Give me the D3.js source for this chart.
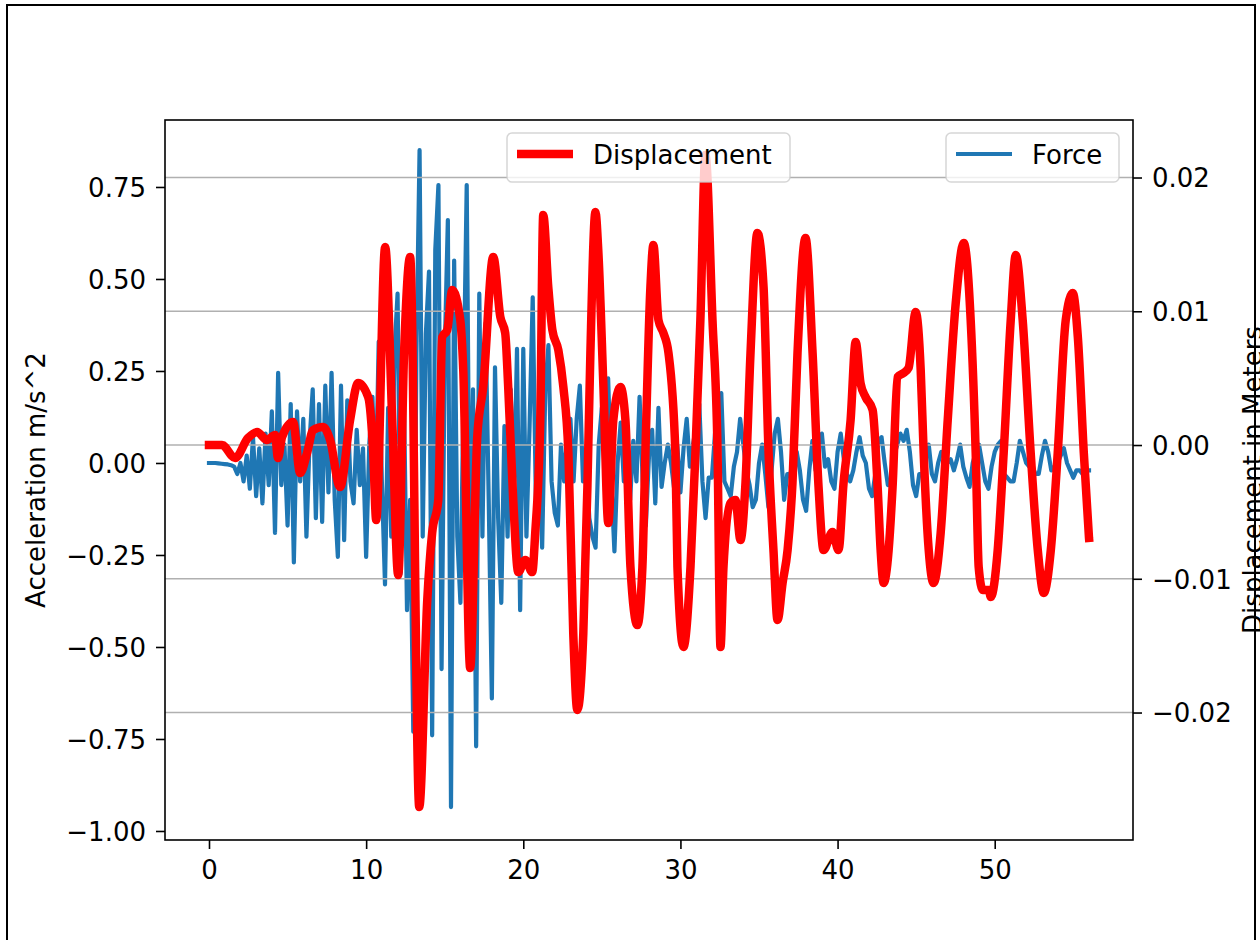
<!DOCTYPE html>
<html>
<head>
<meta charset="utf-8">
<script src="https://cdn.jsdelivr.net/npm/d3@7"></script>
<style>
  body { margin: 0; background: #fff; }
  text { font-family: "DejaVu Sans", sans-serif; }
</style>
</head>
<body>
<div id="chart"></div>
<script>
// Force (acceleration) samples, one every 0.2 s starting at 0 s
const forceStart = 0;
const forceStep = 0.2;
const forceValues = [
  0, 0, 0, -0.001, -0.002, -0.003, -0.004, -0.006, -0.01, -0.03,
  0.0, -0.05, 0.02, -0.07, 0.07, -0.09, 0.04, -0.11, 0.08, -0.06,
  0.14, -0.19, 0.245, -0.06, 0.05, -0.17, 0.16, -0.27, 0.14, -0.05,
  0.12, -0.2, 0.06, 0.2, -0.15, 0.16, -0.16, 0.21, -0.08, 0.245,
  -0.1, -0.255, 0.21, -0.21, 0.17, -0.05, -0.11, 0.09, -0.06, 0.04,
  -0.255, 0.05, 0.18, -0.1, 0.33, -0.05, -0.33, 0.15, -0.2, 0.3,
  0.46, -0.3, 0.2, -0.4, -0.1, -0.73, 0.3, 0.85, -0.2, 0.35,
  0.52, -0.74, 0.58, 0.755, -0.56, 0.3, 0.66, -0.935, 0.55, -0.2,
  -0.38, 0.2, 0.755, -0.3, 0.2, -0.77, 0.46, -0.2, 0.38, -0.1,
  -0.64, 0.26, -0.15, -0.38, 0.1, -0.2, 0.2, -0.1, 0.31, -0.4,
  0.31, -0.2, 0.1, 0.45, -0.1, 0.05, -0.23, 0.2, 0.32, -0.05,
  -0.135, -0.17, 0.05, -0.05, 0.08, 0.12, -0.05, 0.12, 0.21, -0.05,
  0.02, -0.15, -0.2, -0.23, 0.05, 0.15, -0.05, 0.23, -0.05, -0.24,
  0.0, 0.11, -0.05, 0.03, -0.1, 0.06, -0.05, 0.18, -0.05, -0.17,
  0.02, 0.09, -0.11, 0.15, -0.065, 0.0, 0.05, 0.0, -0.07, 0.05,
  -0.08, 0.04, 0.12, -0.01, 0.05, 0.1, 0.16, -0.05, -0.15, -0.04,
  -0.04, 0.08, 0.15, 0.19, -0.05, -0.07, -0.09, -0.01, 0.03, 0.12,
  0.05, -0.02, -0.06, -0.12, -0.1, 0.0, 0.05, -0.03, -0.12, -0.02,
  0.08, 0.12, 0.03, -0.1, -0.03, -0.03, 0.02, 0.03, -0.02, -0.1,
  -0.13, -0.02, 0.06, -0.02, 0.05, 0.08, -0.01, 0.01, -0.05, -0.07,
  0.03, 0.08, 0.01, -0.03, -0.05, -0.02, 0.03, 0.07, 0.02, 0.0,
  -0.07, -0.09, -0.03, 0.06, 0.07, 0.0, -0.06, -0.05, 0.02, 0.05,
  0.08, 0.06, 0.09, 0.03, -0.06, -0.09, -0.03, -0.03, 0.03, 0.05,
  -0.03, -0.05, 0.0, 0.03, 0.02, 0.0, 0.01, -0.02, 0.01, 0.05,
  -0.01, -0.04, -0.065, 0.0, 0.03, 0.05, 0.0, -0.05, -0.07, -0.01,
  0.03, 0.05, 0.06, -0.03, -0.04, -0.05, -0.05, 0.0, 0.06, 0.03,
  0.0, -0.01, -0.01, -0.03, -0.03, 0.02, 0.06, 0.03, -0.02, -0.01,
  0.0, 0.02, 0.04, 0.0, -0.02, -0.04, -0.02, -0.02, -0.03, -0.02,
  -0.02
];

// Displacement, read at turning points (seconds, meters)
const dispTime = [
  0, 0.83, 1.66, 2.48, 3.06, 3.69, 4.2, 4.39, 4.65, 5.35,
  5.8, 6.24, 6.62, 7.26, 7.71, 8.34, 8.98, 9.49, 10.13, 10.45,
  10.64, 11.21, 11.66, 12.04, 12.42, 12.8, 13.38, 13.89, 14.2, 14.59,
  14.84, 15.16, 15.48, 15.99, 16.18, 16.62, 17.07, 17.45, 18.09, 18.54,
  18.85, 19.04, 19.36, 19.68, 20.13, 20.57, 20.76, 21.08, 21.27, 21.59,
  21.85, 22.23, 22.55, 22.87, 23.18, 23.44, 23.82, 24.08, 24.27, 24.59,
  24.78, 25.1, 25.41, 25.73, 26.18, 26.5, 26.82, 27.26, 27.58, 27.77,
  28.09, 28.28, 28.6, 28.92, 29.24, 29.68, 29.81, 30.19, 30.64, 30.96,
  31.27, 31.59, 32.04, 32.36, 32.55, 32.74, 33.18, 33.5, 33.82, 34.14,
  34.46, 34.9, 35.29, 35.61, 35.92, 36.18, 36.5, 36.82, 37.13, 37.45,
  37.96, 38.41, 38.79, 39.11, 39.68, 40.06, 40.38, 40.83, 41.15, 41.46,
  41.78, 42.23, 42.55, 42.74, 42.93, 43.25, 43.5, 43.82, 44.2, 44.52,
  44.97, 45.29, 45.48, 45.8, 46.11, 46.56, 47.01, 47.52, 48.03, 48.47,
  48.79, 48.98, 49.24, 49.62, 49.75, 50.19, 50.57, 51.02, 51.34, 51.78,
  52.29, 52.74, 53.12, 53.57, 54.01, 54.52, 54.97, 55.29, 55.67, 56.0
];
const dispValue = [
  0, 0, -0.00097, 0.00052, 0.00097, 0.00037, 0.00075, -0.00097, 0.0006, 0.00172,
  -0.00209, -0.0006, 0.00112, 0.00135, 0.00037, -0.00314, 0.00187, 0.00464, 0.00359, -0.0006,
  -0.00561, 0.0148, 0.00187, -0.00972, 0.0071, 0.01406, -0.02707, -0.01159, -0.00658, -0.00411,
  0.00807, 0.0086, 0.01159, 0.00935, 0.00561, -0.01667, 0.0006, 0.00434, 0.01406, 0.00957,
  0.00837, 0.00434, -0.00411, -0.0095, -0.0086, -0.0095, -0.00658, 0.00187, 0.0172, 0.01181,
  0.0086, 0.0071, 0.00434, -0.0006, -0.01406, -0.01981, -0.01406, -0.00314, 0.00688, 0.01742,
  0.01436, 0.00434, -0.00583, 0.00187, 0.00434, 0.00187, -0.00912, -0.01346, -0.00912, -0.0006,
  0.01181, 0.01495, 0.00935, 0.00837, 0.00688, -0.0006, -0.00912, -0.0151, -0.00912, -0.00037,
  0.00935, 0.02168, 0.00935, -0.00037, -0.0151, -0.00912, -0.00434, -0.00411, -0.0071, -0.00284,
  0.00688, 0.01585, 0.01181, -0.0006, -0.00785, -0.01308, -0.01032, -0.00785, -0.00284, 0.00688,
  0.01548, 0.00688, -0.00314, -0.00785, -0.0065, -0.00785, -0.00284, 0.00187, 0.0077, 0.00464,
  0.00359, 0.00262, -0.00314, -0.00785, -0.01032, -0.00785, -0.00314, 0.00508, 0.00538, 0.00576,
  0.00994, 0.00561, -0.0006, -0.00785, -0.01032, -0.00658, 0.00187, 0.01062, 0.0151, 0.00935,
  -0.0006, -0.00912, -0.01084, -0.01084, -0.01136, -0.00785, -0.0006, 0.00935, 0.01421, 0.00935,
  -0.0006, -0.00785, -0.01107, -0.00785, -0.0006, 0.00935, 0.01136, 0.00807, -0.0006, -0.00695
];

// tick labels
const accTicks = [-1.0, -0.75, -0.5, -0.25, 0.0, 0.25, 0.5, 0.75];
const dispTicks = [-0.02, -0.01, 0.0, 0.01, 0.02];
const timeTicks = [0, 10, 20, 30, 40, 50];

// setup SVG container
let svgWidth = 1260;
let svgHeight = 940;
let margin = { top: 120, right: 127, bottom: 100, left: 165 };
let bodyWidth = svgWidth - margin.left - margin.right;
let bodyHeight = svgHeight - margin.top - margin.bottom;
let fontSize = 26;

let svg = d3.select("#chart")
            .append("svg")
            .attr("width", svgWidth)
            .attr("height", svgHeight);

// figure border
svg.append("rect")
   .attr("x", 7).attr("y", 5)
   .attr("width", 1248).attr("height", 1000)
   .attr("fill", "none")
   .attr("stroke", "#000")
   .attr("stroke-width", 2);

let chartGroup = svg.append("g")
                    .attr("transform", `translate(${margin.left},${margin.top})`);

chartGroup.append("clipPath").attr("id", "plotArea")
          .append("rect").attr("width", bodyWidth).attr("height", bodyHeight);

// scales (matplotlib style 5% margins)
let xScale = d3.scaleLinear().domain([-2.8, 58.8]).range([0, bodyWidth]);
let yLeft = d3.scaleLinear().domain([-1.0245, 0.932]).range([bodyHeight, 0]);
let yRight = d3.scaleLinear().domain([-0.02953, 0.0243]).range([bodyHeight, 0]);

let forceData = forceValues.map((v, i) => ({ t: forceStart + i * forceStep, v: v }));
let dispData = dispTime.map((t, i) => ({ t: t, v: dispValue[i] }));

// force line
let forceLine = d3.line().x(d => xScale(d.t)).y(d => yLeft(d.v));
chartGroup.append("path")
          .datum(forceData)
          .attr("clip-path", "url(#plotArea)")
          .attr("d", forceLine)
          .attr("fill", "none")
          .attr("stroke", "#1f77b4")
          .attr("stroke-width", 4.2)
          .attr("stroke-linejoin", "round")
          .attr("stroke-linecap", "square");

// grid from the right axis
chartGroup.append("g").selectAll("line")
          .data(dispTicks)
          .enter()
            .append("line")
            .attr("x1", 0).attr("x2", bodyWidth)
            .attr("y1", d => yRight(d)).attr("y2", d => yRight(d))
            .attr("stroke", "#b0b0b0")
            .attr("stroke-width", 1.6);

// displacement line
let dispLine = d3.line().x(d => xScale(d.t)).y(d => yRight(d.v)).curve(d3.curveMonotoneX);
chartGroup.append("path")
          .datum(dispData)
          .attr("clip-path", "url(#plotArea)")
          .attr("d", dispLine)
          .attr("fill", "none")
          .attr("stroke", "red")
          .attr("stroke-width", 8.5)
          .attr("stroke-linejoin", "round")
          .attr("stroke-linecap", "square");

// axes
let fmt = d3.format(".2f");
function styleAxis(g) {
  g.select(".domain").remove();
  g.selectAll(".tick line").attr("stroke", "#000").attr("stroke-width", 1.6);
  g.selectAll(".tick text")
   .attr("fill", "#000")
   .style("font-size", fontSize + "px")
   .style("font-family", "DejaVu Sans");
}

chartGroup.append("g")
          .attr("transform", `translate(0,${bodyHeight})`)
          .call(d3.axisBottom(xScale).tickValues(timeTicks).tickFormat(d3.format("d"))
                  .tickSize(9).tickPadding(12))
          .call(styleAxis);

chartGroup.append("g")
          .call(d3.axisLeft(yLeft).tickValues(accTicks).tickFormat(fmt)
                  .tickSize(9).tickPadding(10))
          .call(styleAxis)
          .selectAll(".tick text").attr("dy", "0.36em");

chartGroup.append("g")
          .attr("transform", `translate(${bodyWidth},0)`)
          .call(d3.axisRight(yRight).tickValues(dispTicks).tickFormat(fmt)
                  .tickSize(9).tickPadding(10))
          .call(styleAxis)
          .selectAll(".tick text").attr("dy", "0.36em");

// axes frame
chartGroup.append("rect")
          .attr("width", bodyWidth).attr("height", bodyHeight)
          .attr("fill", "none")
          .attr("stroke", "#000")
          .attr("stroke-width", 1.6);

// axis titles
svg.append("text")
   .attr("transform", `translate(45,${margin.top + bodyHeight / 2}) rotate(-90)`)
   .attr("text-anchor", "middle")
   .style("font-size", fontSize + "px")
   .text("Acceleration m/s^2");

svg.append("text")
   .attr("transform", `translate(1262,${margin.top + bodyHeight / 2}) rotate(-90)`)
   .attr("text-anchor", "middle")
   .style("font-size", fontSize + "px")
   .text("Displacement in Meters");

// legends
function legend(x, w, label, color, width) {
  let g = svg.append("g").attr("transform", `translate(${x},133)`);
  g.append("rect")
   .attr("width", w).attr("height", 49)
   .attr("rx", 5).attr("ry", 5)
   .attr("fill", "#fff").attr("fill-opacity", 0.8)
   .attr("stroke", "#cccccc").attr("stroke-opacity", 0.8)
   .attr("stroke-width", 1.5);
  g.append("line")
   .attr("x1", 10 + width / 2).attr("x2", 66 - width / 2)
   .attr("y1", 21).attr("y2", 21)
   .attr("stroke", color).attr("stroke-width", width)
   .attr("stroke-linecap", "square");
  g.append("text")
   .attr("x", 86).attr("y", 30.5)
   .style("font-size", fontSize + "px")
   .attr("fill", "#000")
   .text(label);
}
legend(507, 283, "Displacement", "red", 8.5);
legend(946, 173, "Force", "#1f77b4", 4.2);
</script>
</body>
</html>
